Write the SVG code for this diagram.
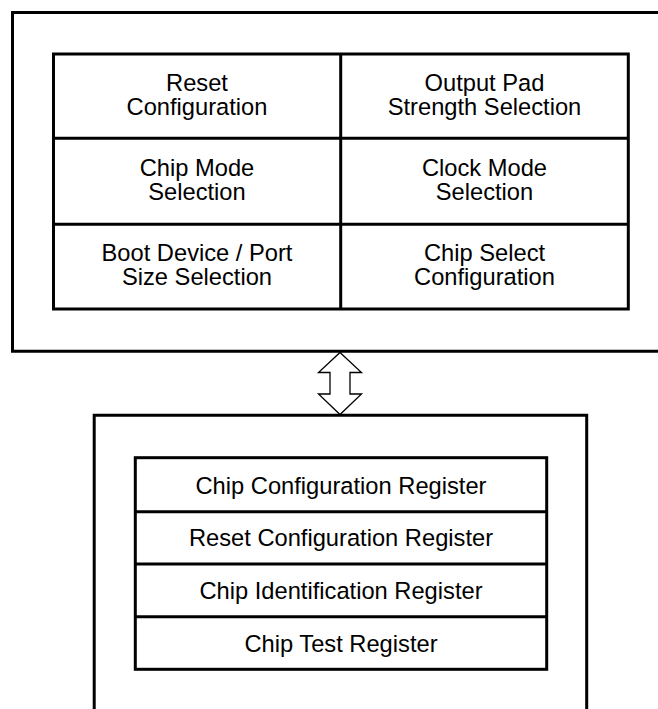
<svg xmlns="http://www.w3.org/2000/svg" width="658" height="709" viewBox="0 0 658 709">
<style>
.box{fill:none;stroke:#000;stroke-width:3}
.ln{stroke:#000;stroke-width:3;fill:none}
.t{font-family:"Liberation Sans",Arial,Helvetica,sans-serif;font-size:23.7px;fill:#000;text-anchor:middle}
.arrow{fill:#fff;stroke:#000;stroke-width:1.3;stroke-linejoin:miter}
</style>
<rect width="658" height="709" fill="#fff"/>
<g id="top-block">
<path class="ln" d="M662 12.5 H12.5 V351.3 H662"/>
</g>
<g id="config-grid">
<rect class="box" x="53.5" y="54" width="574.8" height="255"/>
<line class="ln" x1="340.7" y1="54" x2="340.7" y2="309"/>
<line class="ln" x1="53.5" y1="138.3" x2="628.3" y2="138.3"/>
<line class="ln" x1="53.5" y1="224.3" x2="628.3" y2="224.3"/>
</g>
<g id="reset-config">
<text class="t" x="197" y="90.8">Reset<tspan x="197" dy="24.2">Configuration</tspan></text>
</g>
<g id="output-pad">
<text class="t" x="484.5" y="90.8">Output Pad<tspan x="484.5" dy="24.2">Strength Selection</tspan></text>
</g>
<g id="chip-mode">
<text class="t" x="197" y="176">Chip Mode<tspan x="197" dy="24.2">Selection</tspan></text>
</g>
<g id="clock-mode">
<text class="t" x="484.5" y="176">Clock Mode<tspan x="484.5" dy="24.2">Selection</tspan></text>
</g>
<g id="boot-device">
<text class="t" x="197" y="261">Boot Device / Port<tspan x="197" dy="24.2">Size Selection</tspan></text>
</g>
<g id="chip-select">
<text class="t" x="484.5" y="261">Chip Select<tspan x="484.5" dy="24.2">Configuration</tspan></text>
</g>
<g id="connectors">
<polygon class="arrow" points="340,352.5 361.5,372.5 350,372.5 350,394 361.5,394 340,414.5 318.5,394 330,394 330,372.5 318.5,372.5"/>
</g>
<g id="bottom-block">
<path class="ln" d="M94.2 712 V415.3 H586.7 V712"/>
</g>
<g id="register-stack">
<rect class="box" x="135.3" y="457.7" width="411.4" height="211.6"/>
<line class="ln" x1="135.3" y1="511.7" x2="546.7" y2="511.7"/>
<line class="ln" x1="135.3" y1="564" x2="546.7" y2="564"/>
<line class="ln" x1="135.3" y1="616.7" x2="546.7" y2="616.7"/>
</g>
<g id="chip-config-reg"><text class="t" x="341" y="494">Chip Configuration Register</text></g>
<g id="reset-config-reg"><text class="t" x="341" y="546">Reset Configuration Register</text></g>
<g id="chip-id-reg"><text class="t" x="341" y="598.5">Chip Identification Register</text></g>
<g id="chip-test-reg"><text class="t" x="341" y="651.5">Chip Test Register</text></g>
</svg>
